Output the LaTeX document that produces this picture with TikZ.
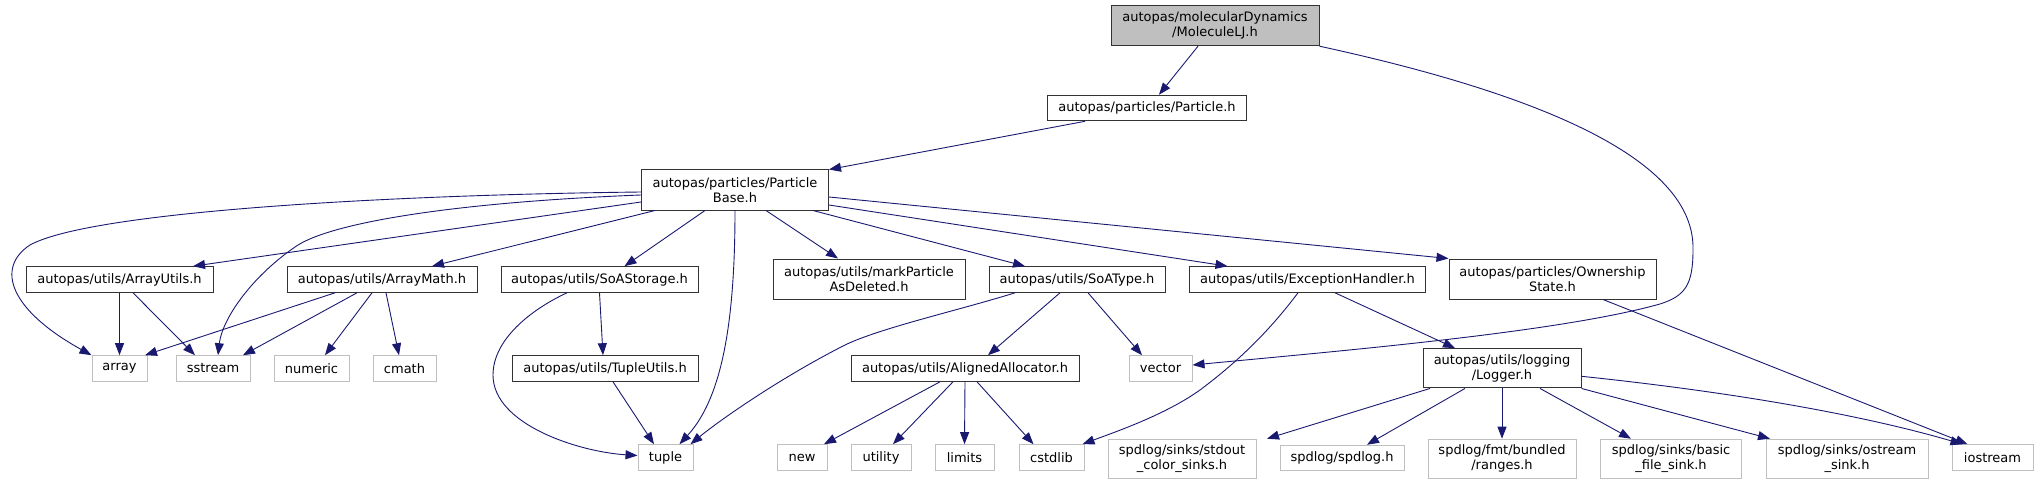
\documentclass[tikz,border=0pt]{standalone}
\usepackage{fontspec}
\setmainfont{DejaVu Sans}
\usetikzlibrary{arrows.meta}
\definecolor{edgeblue}{HTML}{191970}
\definecolor{greyborder}{HTML}{BFBFBF}
\definecolor{mainfill}{HTML}{BFBFBF}
\begin{document}
\begin{tikzpicture}[x=1pt,y=-1pt,
  every node/.style={font=\fontsize{13}{15}\selectfont, inner sep=0pt, align=center, text=black},
  docbox/.style={draw=black!80, line width=1pt, fill=white, minimum height=25.6pt},
  extbox/.style={draw=greyborder, line width=1pt, fill=white, minimum height=25.6pt},
  tall/.style={minimum height=40pt},
  e/.style={draw=edgeblue, line width=0.9pt, -{Triangle[length=12pt,width=9pt]}},
]
\useasboundingbox (0,0) rectangle (2038,484);

% row 0-2
\node[docbox, tall, fill=mainfill, minimum width=208pt] (mol) at (1215,25.7) {autopas/molecularDynamics\\/MoleculeLJ.h};
\node[docbox, minimum width=199pt] (part) at (1147,108) {autopas/particles/Particle.h};
\node[docbox, tall, minimum width=187pt] (pb) at (735,190) {autopas/particles/Particle\\Base.h};

% row 3
\node[docbox, minimum width=187pt] (au) at (119.5,279.5) {autopas/utils/ArrayUtils.h};
\node[docbox, minimum width=190pt] (am) at (382,279.5) {autopas/utils/ArrayMath.h};
\node[docbox, minimum width=197pt] (soas) at (599.5,279.5) {autopas/utils/SoAStorage.h};
\node[docbox, tall, minimum width=192pt] (mpad) at (869,279) {autopas/utils/markParticle\\AsDeleted.h};
\node[docbox, minimum width=176pt] (soat) at (1077,279.5) {autopas/utils/SoAType.h};
\node[docbox, minimum width=236pt] (exh) at (1307.5,279.5) {autopas/utils/ExceptionHandler.h};
\node[docbox, tall, minimum width=207pt] (own) at (1552.5,279) {autopas/particles/Ownership\\State.h};

% row 4
\node[extbox, minimum width=55pt] (arr) at (119.5,368.5) {array};
\node[extbox, minimum width=74pt] (sst) at (213,368.5) {sstream};
\node[extbox, minimum width=75pt] (num) at (311.5,368.5) {numeric};
\node[extbox, minimum width=63pt] (cmath) at (404.5,368.5) {cmath};
\node[docbox, minimum width=186pt] (tu) at (605,368.5) {autopas/utils/TupleUtils.h};
\node[docbox, minimum width=228pt] (aa) at (965,368.5) {autopas/utils/AlignedAllocator.h};
\node[extbox, minimum width=63pt] (vec) at (1160.5,368.5) {vector};
\node[docbox, minimum width=158pt, minimum height=39.3pt] (log) at (1502,368.3) {autopas/utils/logging\\/Logger.h};

% row 5
\node[extbox, minimum width=55pt] (tuple) at (665.5,457.5) {tuple};
\node[extbox, minimum width=50pt] (new) at (802,457.5) {new};
\node[extbox, minimum width=60pt] (util) at (881,457.5) {utility};
\node[extbox, minimum width=59pt] (lim) at (964.5,457.5) {limits};
\node[extbox, minimum width=65pt] (cstd) at (1051.5,457.5) {cstdlib};
\node[extbox, minimum width=148pt, minimum height=39pt] (stdout) at (1182,458.7) {spdlog/sinks/stdout\\\_color\_sinks.h};
\node[extbox, minimum width=124pt] (spd) at (1342,458) {spdlog/spdlog.h};
\node[extbox, minimum width=148pt, minimum height=39pt] (ranges) at (1502,458.7) {spdlog/fmt/bundled\\/ranges.h};
\node[extbox, minimum width=141pt, minimum height=39pt] (basic) at (1671,458.7) {spdlog/sinks/basic\\\_file\_sink.h};
\node[extbox, minimum width=162pt, minimum height=39pt] (ostr) at (1847,458.7) {spdlog/sinks/ostream\\\_sink.h};
\node[extbox, minimum width=81pt] (ios) at (1992.5,457.5) {iostream};

% edges
\draw[e] ([xshift=-17pt]mol.south) -- ([xshift=12pt]part.north);
\draw[e] (mol.south east) .. controls (1590,105) and (1695,175) .. (1693,250)
  .. controls (1693,285) and (1685,296) .. (1660,304)
  .. controls (1560,332) and (1350,350) .. ([yshift=3.5pt]vec.east);
\draw[e] ([xshift=-62pt]part.south) -- (pb.north east);

\draw[e] ([yshift=-2pt]pb.west) .. controls (380,195) and (90,212) .. (30,245)
  .. controls (-5,268) and (10,310) .. (arr.north west);
\draw[e] ([yshift=-5pt]pb.west) .. controls (460,202) and (330,222) .. (295,247)
  .. controls (250,278) and (222,320) .. ([xshift=5pt]sst.north);
\draw[e] ([yshift=-12pt]pb.west) -- ([xshift=73.5pt]au.north);
\draw[e] ([xshift=-80pt]pb.south) -- ([xshift=50pt]am.north);
\draw[e] ([xshift=-30pt]pb.south) -- ([xshift=25pt]soas.north);
\draw[e] (pb.south) .. controls (735,330) and (720,400) .. ([xshift=14pt]tuple.north);
\draw[e] ([xshift=31pt]pb.south) -- ([xshift=-31pt]mpad.north);
\draw[e] ([xshift=78pt]pb.south) -- ([xshift=-52pt]soat.north);
\draw[e] ([yshift=-15pt]pb.east) -- ([xshift=-80pt]exh.north);
\draw[e] ([yshift=-7pt]pb.east) -- (own.north west);

\draw[e] (au.south) -- (arr.north);
\draw[e] ([xshift=13.5pt]au.south) -- ([xshift=-18pt]sst.north);
\draw[e] ([xshift=-47pt]am.south) -- ([xshift=25.5pt]arr.north);
\draw[e] ([xshift=-25pt]am.south) -- ([xshift=30pt]sst.north);
\draw[e] ([xshift=-10pt]am.south) -- ([xshift=13.5pt]num.north);
\draw[e] ([xshift=4pt]am.south) -- ([xshift=-5.5pt]cmath.north);

\draw[e] (soas.south) -- ([xshift=-2pt]tu.north);
\draw[e] ([xshift=-32.5pt]soas.south) .. controls (530,310) and (493,340) .. (493,375)
  .. controls (493,425) and (580,452) .. ([yshift=2pt]tuple.west);
\draw[e] ([xshift=8pt]tu.south) -- ([xshift=-11.5pt]tuple.north);

\draw[e] ([xshift=-62pt]soat.south) .. controls (960,310) and (880,328) .. (845,345)
  .. controls (780,378) and (720,420) .. ([xshift=-3pt]tuple.north east);
\draw[e] ([xshift=-17pt]soat.south) -- ([xshift=23pt]aa.north);
\draw[e] ([xshift=11pt]soat.south) -- ([xshift=-18.5pt]vec.north);

\draw[e] ([xshift=-25pt]aa.south) -- ([xshift=22pt]new.north);
\draw[e] ([xshift=-12pt]aa.south) -- ([xshift=12pt]util.north);
\draw[e] (aa.south) -- (lim.north);
\draw[e] ([xshift=12pt]aa.south) -- ([xshift=-18pt]cstd.north);

\draw[e] ([xshift=-9.5pt]exh.south) .. controls (1270,330) and (1240,360) .. (1200,390)
  .. controls (1165,415) and (1115,432) .. ([xshift=-2pt]cstd.north east);
\draw[e] ([xshift=27.5pt]exh.south) -- ([xshift=-47pt]log.north);
\draw[e] ([xshift=50.5pt]own.south) -- ([xshift=-25pt]ios.north);

\draw[e] ([xshift=-72pt]log.south) -- ([xshift=85pt]stdout.north);
\draw[e] ([xshift=-37pt]log.south) -- ([xshift=25pt]spd.north);
\draw[e] (log.south) -- (ranges.north);
\draw[e] ([xshift=38pt]log.south) -- ([xshift=-40pt]basic.north);
\draw[e] (log.south east) -- ([xshift=-77pt]ostr.north);
\draw[e] ([yshift=-8pt]log.east) .. controls (1760,395) and (1880,420) .. ([xshift=-30pt]ios.north);
\end{tikzpicture}
\end{document}
